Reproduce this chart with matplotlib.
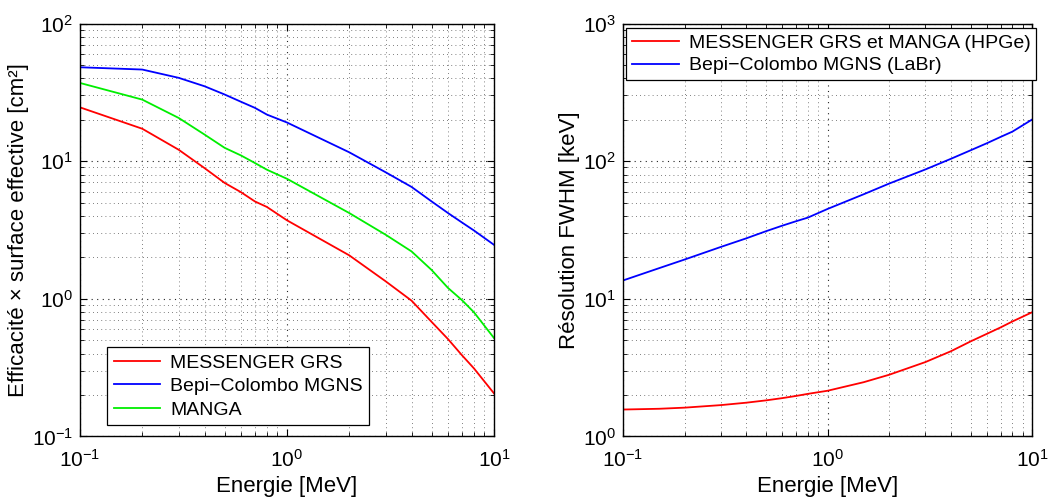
import matplotlib
matplotlib.use("Agg")
import matplotlib.pyplot as plt
from matplotlib.ticker import LogLocator, NullFormatter

plt.rcParams['font.family'] = ['Liberation Sans', 'DejaVu Sans']
plt.rcParams['mathtext.fontset'] = 'custom'
plt.rcParams['mathtext.rm'] = 'Liberation Sans'
plt.rcParams['mathtext.it'] = 'Liberation Sans:italic'
plt.rcParams['mathtext.bf'] = 'Liberation Sans:bold'

# ---- Left panel: effective area ----
energy_eff = [0.1, 0.2, 0.3, 0.4, 0.5, 0.6, 0.7, 0.8, 1.0, 2.0, 3.0, 4.0, 5.0, 6.0, 7.0, 8.0, 10.0]
messenger_grs = [24.6, 17.2, 12.1, 8.9, 6.95, 5.95, 5.1, 4.65, 3.72, 2.07, 1.34, 0.97, 0.68, 0.51, 0.39, 0.313, 0.206]
bepi_mgns = [48.1, 46.3, 40.3, 35.0, 30.5, 27.0, 24.4, 21.8, 19.1, 11.6, 8.3, 6.5, 5.1, 4.2, 3.59, 3.14, 2.47]
manga = [37.0, 28.0, 20.6, 15.6, 12.5, 11.0, 9.7, 8.67, 7.45, 4.2, 2.92, 2.21, 1.62, 1.2, 0.98, 0.80, 0.52]

# ---- Right panel: resolution FWHM ----
energy_res = [0.1, 0.15, 0.2, 0.3, 0.4, 0.5, 0.6, 0.7, 0.8, 1.0, 1.5, 2.0, 3.0, 4.0, 5.0, 6.0, 7.0, 8.0, 10.0]
fwhm_hpge = [1.57, 1.59, 1.62, 1.69, 1.76, 1.83, 1.90, 1.97, 2.04, 2.15, 2.48, 2.81, 3.47, 4.16, 4.91, 5.57, 6.2, 6.85, 8.0]
fwhm_labr = [13.6, 16.7, 19.3, 23.8, 27.5, 31.0, 34.0, 36.6, 38.9, 45.0, 57.5, 68.8, 87.0, 104.0, 120.0, 135.0, 150.0, 164.0, 201.0]

fig = plt.figure(figsize=(10.48, 4.98), dpi=100)
ax1 = fig.add_axes([0.0763, 0.1235, 0.395, 0.8293])
ax2 = fig.add_axes([0.5945, 0.1235, 0.3905, 0.8293])

RED = '#ff0000'
BLUE = '#0000ff'
GREEN = '#00ee00'
LW = 1.3

ax1.plot(energy_eff, messenger_grs, color=RED, lw=LW, label='MESSENGER GRS')
ax1.plot(energy_eff, bepi_mgns, color=BLUE, lw=LW, label='Bepi\u2212Colombo MGNS')
ax1.plot(energy_eff, manga, color=GREEN, lw=LW, label='MANGA')
ax1.set_xlabel('Energie [MeV]', fontsize=16, labelpad=4)
ax1.set_ylabel('Efficacit\u00e9 \u00d7 surface effective [cm\u00b2]', fontsize=16, labelpad=2)

ax2.plot(energy_res, fwhm_hpge, color=RED, lw=LW, label='MESSENGER GRS et MANGA (HPGe)')
ax2.plot(energy_res, fwhm_labr, color=BLUE, lw=LW, label='Bepi\u2212Colombo MGNS (LaBr)')
ax2.set_xlabel('Energie [MeV]', fontsize=16, labelpad=4)
ax2.set_ylabel('R\u00e9solution FWHM [keV]', fontsize=16, labelpad=2)

for ax in (ax1, ax2):
    ax.set_xscale('log')
    ax.set_yscale('log')
    ax.xaxis.set_major_locator(LogLocator(base=10, numticks=10))
    ax.yaxis.set_major_locator(LogLocator(base=10, numticks=10))
    ax.xaxis.set_minor_locator(LogLocator(base=10, subs=range(2, 10), numticks=20))
    ax.yaxis.set_minor_locator(LogLocator(base=10, subs=range(2, 10), numticks=20))
    ax.xaxis.set_minor_formatter(NullFormatter())
    ax.yaxis.set_minor_formatter(NullFormatter())
    ax.set_xlim(0.1, 10)
    ax.grid(True, which='major', linestyle=(0, (1, 4)), color='#222222', lw=0.8)
    ax.grid(True, which='minor', linestyle=(0, (1, 4)), color='#555555', lw=0.6)
    ax.tick_params(which='both', direction='in', top=True, right=True, labelsize=15)
    ax.tick_params(which='major', length=5, width=0.8)
    ax.tick_params(which='minor', length=3, width=0.6)
    ax.tick_params(axis='x', pad=9)
    ax.tick_params(axis='y', pad=5)
    for s in ax.spines.values():
        s.set_linewidth(1.0)

ax1.set_ylim(0.1, 100)
ax2.set_ylim(1, 1000)

leg1 = ax1.legend(loc='lower left', bbox_to_anchor=(0.065, 0.027), fontsize=14,
                  frameon=True, fancybox=False, edgecolor='black', framealpha=1,
                  handlelength=2.4, handletextpad=0.5, labelspacing=0.3, borderpad=0.35,
                  borderaxespad=0.0)
leg1.get_frame().set_linewidth(0.9)
leg2 = ax2.legend(loc='upper left', bbox_to_anchor=(0.008, 0.988), fontsize=14,
                  frameon=True, fancybox=False, edgecolor='black', framealpha=1,
                  handlelength=2.4, handletextpad=0.5, labelspacing=0.25, borderpad=0.3,
                  borderaxespad=0.0)
leg2.get_frame().set_linewidth(0.9)

fig.savefig('out.png', dpi=100)
